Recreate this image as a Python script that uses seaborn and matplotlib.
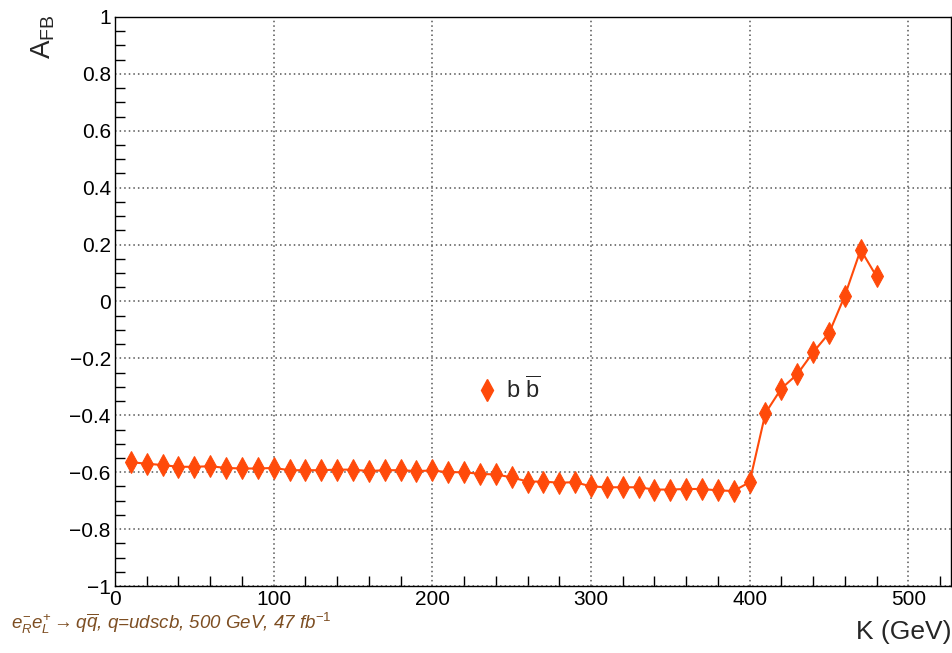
import numpy as np
import pandas as pd
import matplotlib
matplotlib.use("Agg")
import matplotlib.pyplot as plt
from matplotlib.lines import Line2D
from matplotlib.ticker import MultipleLocator
import seaborn as sns

# Forward-backward asymmetry of b-quark pairs versus the K cut
k_gev = [10, 20, 30, 40, 50, 60, 70, 80, 90, 100,
         110, 120, 130, 140, 150, 160, 170, 180, 190, 200,
         210, 220, 230, 240, 250, 260, 270, 280, 290, 300,
         310, 320, 330, 340, 350, 360, 370, 380, 390, 400,
         410, 420, 430, 440, 450, 460, 470, 480]
afb_bb = [-0.565, -0.570, -0.575, -0.581, -0.581, -0.579, -0.585, -0.587, -0.587, -0.585,
          -0.593, -0.593, -0.593, -0.591, -0.591, -0.596, -0.593, -0.593, -0.596, -0.594,
          -0.600, -0.600, -0.606, -0.608, -0.618, -0.633, -0.633, -0.637, -0.635, -0.650,
          -0.653, -0.653, -0.653, -0.661, -0.661, -0.659, -0.659, -0.664, -0.666, -0.635,
          -0.392, -0.306, -0.256, -0.179, -0.112, 0.020, 0.182, 0.088]
y_ticks = [1, 0.8, 0.6, 0.4, 0.2, 0, -0.2, -0.4, -0.6, -0.8, -1]
x_ticks = [0, 100, 200, 300, 400, 500]

sns.set_theme(style="white")
plt.rcParams["font.family"] = ["Liberation Sans", "DejaVu Sans"]
plt.rcParams["mathtext.fontset"] = "custom"
plt.rcParams["mathtext.rm"] = "Liberation Sans"
plt.rcParams["mathtext.it"] = "Liberation Sans:italic"
plt.rcParams["mathtext.bf"] = "Liberation Sans:bold"

color = "#ff4a0a"
df = pd.DataFrame({"K": k_gev, "AFB": afb_bb})

fig = plt.figure(figsize=(9.53, 6.53), dpi=100)
ax = fig.add_axes([0.1207, 0.1026, 0.8773, 0.8714])

sns.lineplot(data=df, x="K", y="AFB", ax=ax, color=color, lw=1.5,
             marker="d", markersize=11, markeredgecolor=color,
             markerfacecolor=color)

ax.set_xlim(0, 527)
ax.set_ylim(-1, 1)
ax.set_xticks(x_ticks)
ax.set_yticks(y_ticks)
ax.set_yticklabels(["1", "0.8", "0.6", "0.4", "0.2", "0",
                    "\u22120.2", "\u22120.4", "\u22120.6", "\u22120.8", "\u22121"])
ax.xaxis.set_minor_locator(MultipleLocator(20))
ax.yaxis.set_minor_locator(MultipleLocator(0.05))
ax.tick_params(axis="both", which="both", direction="in", top=False, right=False,
               colors="black", labelsize=15)
ax.tick_params(axis="y", which="major", length=14, width=1, pad=3)
ax.tick_params(axis="y", which="minor", length=7, width=1, left=True)
ax.tick_params(axis="x", which="major", length=14, width=1, pad=3)
ax.tick_params(axis="x", which="minor", length=7, width=1, bottom=True)

for s in ax.spines.values():
    s.set_visible(True)
    s.set_color("black")
    s.set_linewidth(1.0)

ax.grid(True, which="major", linestyle=(0, (1, 2)), color="#555555", linewidth=1.1)
ax.set_axisbelow(True)

ax.set_xlabel("")
ax.set_ylabel("")
fig.text(0.998, 0.032, "K (GeV)", ha="right", va="center", fontsize=19)
fig.text(0.045, 0.978, r"A$_{\mathrm{FB}}$", ha="center", va="top",
         rotation=90, fontsize=20)
fig.text(0.012, 0.046,
         r"$e^{-}_{R}e^{+}_{L}\rightarrow q\overline{q}$, q=udscb, 500 GeV, 47 fb$^{-1}$",
         ha="left", va="center", fontsize=13.5, style="italic", color="#7d4e22")

handle = Line2D([], [], marker="d", ls="none", color=color, markersize=11)
ax.legend([handle], [r"b $\overline{\mathrm{b}}$"], loc="center left",
          bbox_to_anchor=(0.405, 0.345), frameon=False, fontsize=17,
          handletextpad=0.3, handlelength=1.0)

fig.savefig("out.png", dpi=100)
